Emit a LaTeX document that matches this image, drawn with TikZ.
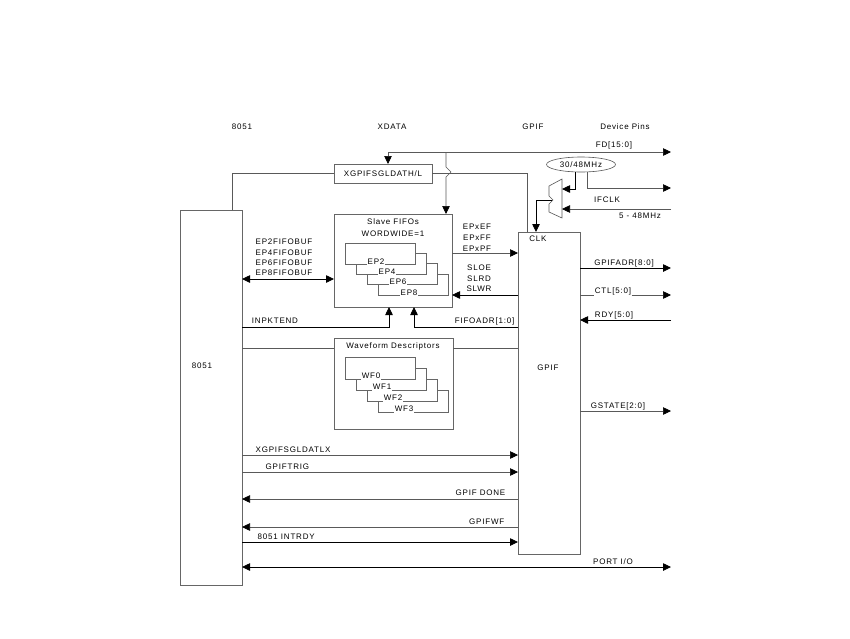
\documentclass[tikz,border=0pt]{standalone}
\usepackage{fontspec}
\setmainfont{Liberation Sans}[LetterSpace=10]
\usetikzlibrary{arrows.meta,shapes.geometric}
\begin{document}
\begin{tikzpicture}[x=1pt,y=-1pt,font=\fontsize{8}{9.6}\selectfont,
  ln/.style={draw=black!65,line width=0.6pt},
  bk/.style={draw=black,line width=0.8pt},
  toarrow/.style={-{Triangle[length=8pt,width=7.5pt,color=black]}},
  botharrow/.style={{Triangle[length=8pt,width=7.5pt,color=black]}-{Triangle[length=8pt,width=7.5pt,color=black]}},
  blk/.style={draw=black!60,line width=0.6pt,inner sep=0pt,outer sep=0pt,anchor=north west},
  lbl/.style={inner sep=0.5pt},
  card/.style={draw=black!60,line width=0.6pt,fill=white,minimum width=70pt,minimum height=21pt,inner sep=0pt,outer sep=0pt,anchor=north west},
  cardlbl/.style={fill=white,inner sep=1pt}]
\fill[white] (0,0) rectangle (850,638);
\useasboundingbox (0,0) rectangle (850,638);

% headers
\node[lbl] (h8051) at (242,127) {8051};
\node[lbl] (hxdata) at (392,127) {XDATA};
\node[lbl] (hgpif) at (533,127) {GPIF};
\node[lbl] (hpins) at (625,127) {Device Pins};

% main blocks
\node[blk,minimum width=62pt,minimum height=375pt] (m8051) at (180,210) {};
\node[lbl] (t8051) at (202,366) {8051};
\node[blk,minimum width=62pt,minimum height=322pt] (gpif) at (518,232) {};
\node[lbl] (tgpif) at (548,368) {GPIF};
\node[lbl] (tclk) at (538,239) {CLK};
\node[blk,minimum width=98pt,minimum height=19pt] (xg) at (334,164) {XGPIFSGLDATH/L};
\node[blk,minimum width=118pt,minimum height=93pt] (slave) at (334,214) {};
\node[lbl] (tslave1) at (393,222) {Slave FIFOs};
\node[lbl] (tslave2) at (393,234) {WORDWIDE=1};
\node[blk,minimum width=119pt,minimum height=91pt] (wf) at (334,338) {};
\node[lbl] (twf) at (393,346) {Waveform Descriptors};
\node[draw=black!65,line width=0.6pt,ellipse,minimum width=69pt,minimum height=15pt,inner sep=0pt] (osc) at (581,164.5) {30/48MHz};

% stacked cards
\foreach \k/\t in {3/EP8,2/EP6,1/EP4,0/EP2}{
  \node[card] (c\t) at ({345+11*\k},{243+10.3*\k}) {};
  \node[cardlbl] (l\t) at ({376+11*\k},{261.5+10.3*\k}) {\t};
}
\foreach \k/\t in {3/WF3,2/WF2,1/WF1,0/WF0}{
  \node[card,minimum height=22pt] (c\t) at ({345+11*\k},{357+11*\k}) {};
  \node[cardlbl] (l\t) at ({371+11*\k},{376+11*\k}) {\t};
}

% FD bus
\coordinate (fdend) at (671,152);
\node[lbl] (tfd) at (614,145) {FD[15:0]};
\draw[ln,botharrow] (xg.north -| 388,0) -- (388,152) -- (fdend);
\draw[ln,toarrow] (446,152) -- (446,167) -- (451,172) -- (446,177) -- (slave.north -| 446,0);
\draw[ln] (m8051.north -| 232,0) |- (xg.west);
\draw[ln] (xg.east) -| (gpif.north -| 527,0);

% clock mux
\coordinate (muxout) at (552,200);
\coordinate (muxin1) at (562,189);
\coordinate (muxin2) at (562,209);
\draw[ln] (562,179) -- (562,218) -- (549,212) -- (549,204) -- (553,200) -- (549,196) -- (549,186) -- cycle;
\draw[bk,toarrow] (osc.south -| 575,0) |- (muxin1);
\coordinate (ifclkout) at (671,188);
\draw[ln,toarrow] (osc.south -| 587,0) |- (ifclkout);
\coordinate (ifclkin) at (671,209);
\draw[ln,toarrow] (ifclkin) -- (muxin2);
\node[lbl] (tifclk) at (607,200) {IFCLK};
\node[lbl] (tfreq) at (640,216) {5 - 48MHz};
\draw[bk,toarrow] (muxout) -| (gpif.north -| 536,0);

% slave fifo connections
\node[lbl] (tb2) at (284,242) {EP2FIFOBUF};
\node[lbl] (tb4) at (284,252.5) {EP4FIFOBUF};
\node[lbl] (tb6) at (284,263) {EP6FIFOBUF};
\node[lbl] (tb8) at (284,273) {EP8FIFOBUF};
\draw[bk,botharrow] (m8051.east |- 0,279) -- (slave.west |- 0,279);
\node[lbl] (tef) at (477,227) {EPxEF};
\node[lbl] (tff) at (477,238) {EPxFF};
\node[lbl] (tpf) at (477,249) {EPxPF};
\draw[ln,toarrow] (slave.east |- 0,253) -- (gpif.west |- 0,253);
\node[lbl] (tsloe) at (479,268) {SLOE};
\node[lbl] (tslrd) at (479,278.5) {SLRD};
\node[lbl] (tslwr) at (479,289) {SLWR};
\draw[bk,toarrow] (gpif.west |- 0,295) -- (slave.east |- 0,295);
\node[lbl] (tinpk) at (275,321) {INPKTEND};
\draw[bk,toarrow] (m8051.east |- 0,327) -| (slave.south -| 389,0);
\node[lbl,anchor=east] (tfifoadr) at (515,321) {FIFOADR[1:0]};
\draw[bk,toarrow] (gpif.west |- 0,327) -| (slave.south -| 414,0);
\draw[ln] (m8051.east |- 0,348) -- (wf.west |- 0,348);
\draw[ln] (wf.east |- 0,348) -- (gpif.west |- 0,348);

% right side pins
\node[lbl] (tgadr) at (624,263) {GPIFADR[8:0]};
\draw[bk,toarrow] (gpif.east |- 0,268) -- (671,268);
\node[lbl] (tctl) at (613,291) {CTL[5:0]};
\draw[ln] (gpif.east |- 0,295) -- (tctl.west |- 0,295);
\draw[ln,toarrow] (tctl.east |- 0,295) -- (671,295);
\node[lbl] (trdy) at (614,315) {RDY[5:0]};
\draw[bk,toarrow] (671,320) -- (gpif.east |- 0,320);
\node[lbl] (tgst) at (618,406) {GSTATE[2:0]};
\draw[ln,toarrow] (gpif.east |- 0,411) -- (671,411);

% bottom signals
\node[lbl,anchor=west] (txlx) at (255,450) {XGPIFSGLDATLX};
\draw[ln,toarrow] (m8051.east |- 0,455) -- (gpif.west |- 0,455);
\node[lbl,anchor=west] (ttrig) at (265,467) {GPIFTRIG};
\draw[ln,toarrow] (m8051.east |- 0,472) -- (gpif.west |- 0,472);
\node[lbl,anchor=east] (tdone) at (506,493) {GPIF DONE};
\draw[ln,toarrow] (gpif.west |- 0,499) -- (m8051.east |- 0,499);
\node[lbl,anchor=east] (twfl) at (505,522) {GPIFWF};
\draw[ln,toarrow] (gpif.west |- 0,527) -- (m8051.east |- 0,527);
\node[lbl,anchor=west] (tintr) at (257,537) {8051 INTRDY};
\draw[bk,toarrow] (m8051.east |- 0,542) -- (gpif.west |- 0,542);
\node[lbl] (tport) at (613,562) {PORT I/O};
\coordinate (portend) at (671,567);
\draw[bk,botharrow] (m8051.east |- 0,567) -- (portend);
\end{tikzpicture}
\end{document}
